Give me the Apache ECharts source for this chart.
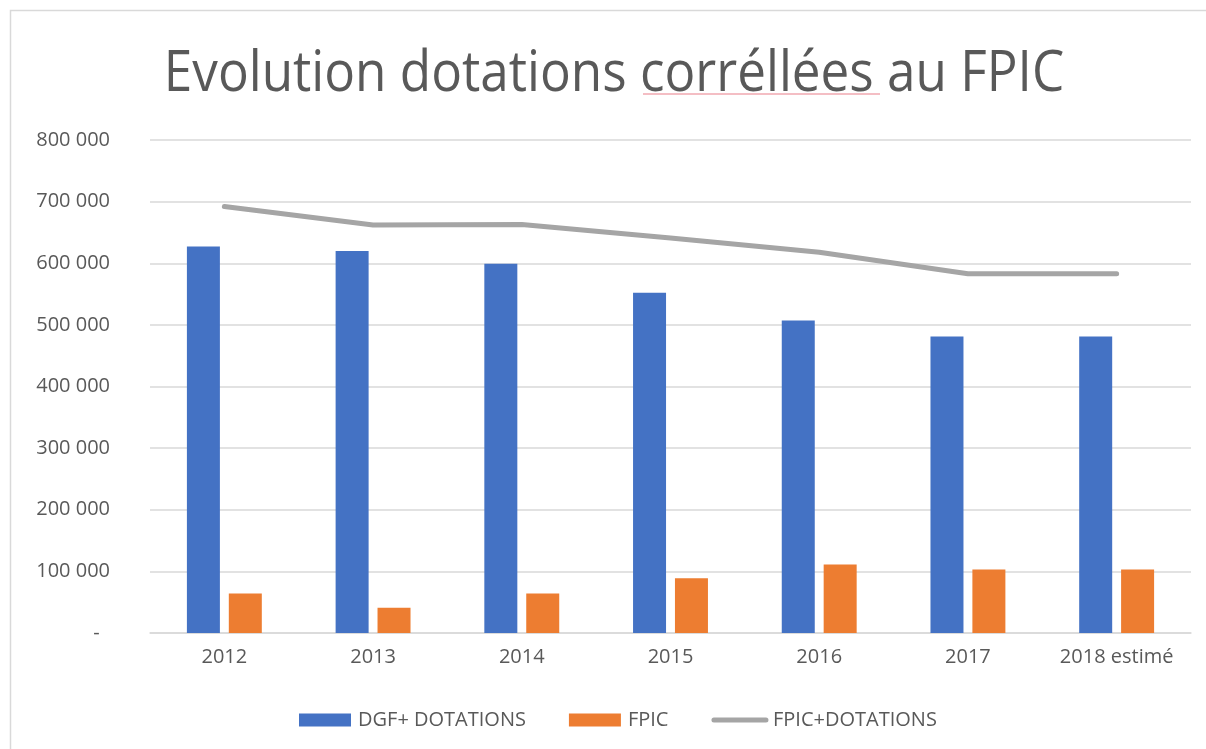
<!DOCTYPE html>
<html>
<head>
<meta charset="utf-8">
<script src="https://cdn.jsdelivr.net/npm/echarts@6/dist/echarts.min.js"></script>
<style>html,body{margin:0;padding:0;background:#fff}#c{width:1206px;height:749px}</style>
</head>
<body>
<div id="c"></div>
<script>
var titleText = 'Evolution dotations corréllées au FPIC';
var categories = ['2012', '2013', '2014', '2015', '2016', '2017', '2018 estimé'];
var dgfDotations = [627000, 620000, 599000, 552000, 507000, 481000, 481000];
var fpic = [64000, 41000, 64000, 89000, 111000, 103000, 103000];
var fpicPlusDotations = [692000, 662000, 663000, 641000, 618000, 583000, 583000];
var seriesNames = ['DGF+ DOTATIONS', 'FPIC', 'FPIC+DOTATIONS'];

var FONT = '"Open Sans", "Noto Sans", sans-serif';
var chart = echarts.init(document.getElementById('c'), null, {renderer: 'canvas'});
function fmt(v) {
  if (v === 0) return '-  ';
  return String(v).replace(/\B(?=(\d{3})+(?!\d))/g, ' ');
}
chart.setOption({
  backgroundColor: '#fff',
  animation: false,
  graphic: [
    {type: 'rect', shape: {x: 10.5, y: 10.5, width: 1300, height: 900}, style: {fill: 'none', stroke: '#d9d9d9', lineWidth: 1.5}, silent: true},
    {type: 'text', x: 614, y: 75, scaleX: 0.915, scaleY: 1,
     style: {text: titleText, font: '56px ' + FONT, fill: '#595959', textAlign: 'center', textVerticalAlign: 'middle', align: 'center', verticalAlign: 'middle'}},
    {type: 'line', shape: {x1: 643, y1: 94, x2: 880, y2: 94}, style: {stroke: '#f0a8b0', lineWidth: 1.5}, silent: true}
  ],
  grid: {left: 150, right: 15, top: 140, bottom: 116, containLabel: false},
  legend: {
    left: 294, top: 705,
    itemWidth: 52, itemHeight: 13, itemGap: 43,
    textStyle: {fontFamily: FONT, fontSize: 20, color: '#595959', padding: [0, 0, 0, 2]},
    data: [
      {name: seriesNames[0], icon: 'rect'},
      {name: seriesNames[1], icon: 'rect'},
      {name: seriesNames[2], itemStyle: {opacity: 0}, lineStyle: {color: '#a5a5a5', width: 5, cap: 'round'}}
    ]
  },
  xAxis: {
    type: 'category', data: categories,
    axisLine: {lineStyle: {color: '#d9d9d9', width: 1.5}},
    axisTick: {show: false},
    axisLabel: {fontFamily: FONT, fontSize: 20, color: '#595959', margin: 14, interval: 0}
  },
  yAxis: {
    type: 'value', min: 0, max: 800000, interval: 100000,
    axisLine: {show: false}, axisTick: {show: false},
    splitLine: {lineStyle: {color: '#d9d9d9', width: 1.5}},
    axisLabel: {fontFamily: FONT, fontSize: 20, color: '#595959', margin: 40, formatter: fmt}
  },
  series: [
    {name: seriesNames[0], type: 'bar', data: dgfDotations, barWidth: 33, barGap: '27%',
     itemStyle: {color: '#4472c4'}},
    {name: seriesNames[1], type: 'bar', data: fpic, barWidth: 33, barGap: '27%',
     itemStyle: {color: '#ed7d31'}},
    {name: seriesNames[2], type: 'line', data: fpicPlusDotations, symbol: 'none',
     lineStyle: {color: '#a5a5a5', width: 5, cap: 'round', join: 'round'},
     itemStyle: {color: '#a5a5a5'}}
  ]
});
</script>
</body>
</html>
